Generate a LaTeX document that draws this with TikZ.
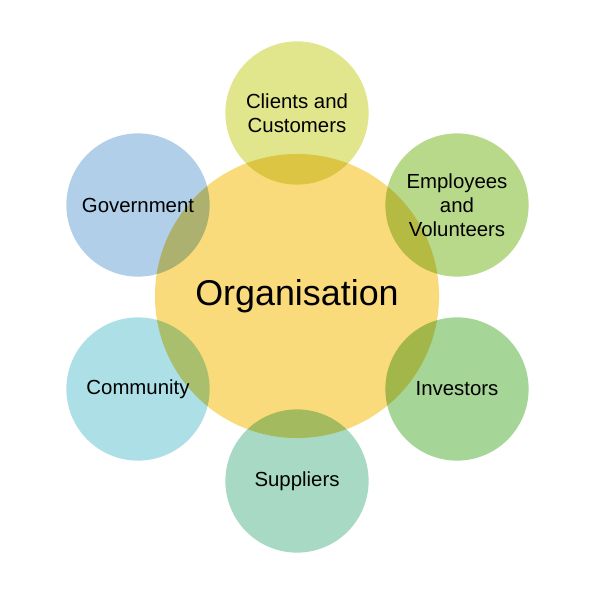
\documentclass[tikz,border=0pt]{standalone}
\usepackage{fontspec}
\setmainfont{Liberation Sans}
\usetikzlibrary{positioning}

\definecolor{orgyellow}{HTML}{FADB7B}
\definecolor{clientgreen}{HTML}{E1E68C}
\definecolor{employeegreen}{HTML}{B9D98A}
\definecolor{investorgreen}{HTML}{A6D598}
\definecolor{suppliergreen}{HTML}{A8D9C4}
\definecolor{communityblue}{HTML}{ADDFE6}
\definecolor{govblue}{HTML}{B1CFE8}

\begin{document}
\begin{tikzpicture}[
  x=0.025cm, y=-0.025cm,
  org/.style={circle, inner sep=0pt, minimum size=7.1cm, fill=orgyellow, font=\fontsize{25.5}{30}\selectfont},
  party/.style={circle, inner sep=0pt, minimum size=3.58cm, align=center, blend mode=multiply, font=\fontsize{14.5}{17}\selectfont}
]
\useasboundingbox (0,0) rectangle (596,596);

\node[org] (org) at (297,296) {Organisation};

\node[party, fill=clientgreen] (clients) at (297,113) {Clients and\\Customers};
\node[party, fill=employeegreen] (employees) at (457,205) {Employees\\and\\Volunteers};
\node[party, fill=investorgreen] (investors) at (457,389) {Investors};
\node[party, fill=suppliergreen] (suppliers) at (297,481) {Suppliers};
\node[party, fill=communityblue] (community) at (138,389) {Community};
\node[party, fill=govblue] (government) at (138,205) {Government};

\end{tikzpicture}
\end{document}
